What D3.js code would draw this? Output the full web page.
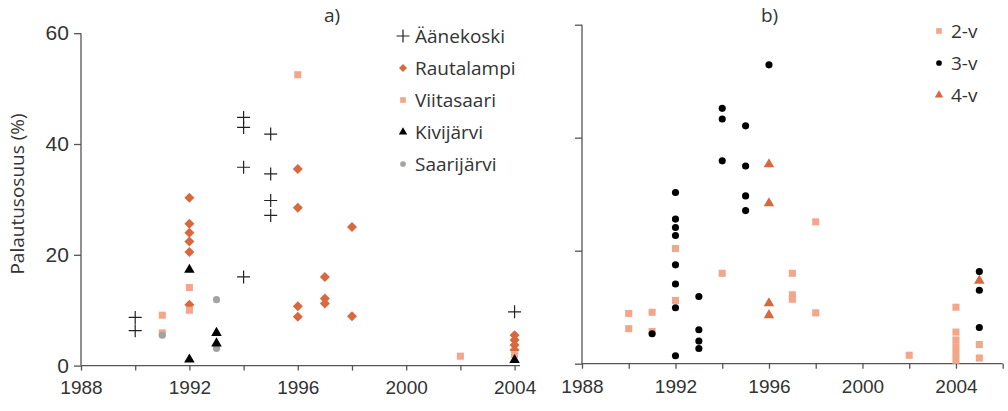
<!DOCTYPE html>
<html>
<head>
<meta charset="utf-8">
<script src="https://cdn.jsdelivr.net/npm/d3@7"></script>
<style>
  body { margin: 0; background: #fff; }
  svg { font-family: "Open Sans", "Noto Sans", sans-serif; }
</style>
</head>
<body>
<svg id="chart" width="1008" height="411"></svg>
<script>
// panel a) – [year, percent]
const aanekoski = [[1990, 8.7], [1990, 6.3], [1994, 44.8], [1994, 43.0], [1994, 35.8], [1994, 16.0],
  [1995, 41.8], [1995, 34.6], [1995, 29.8], [1995, 27.1], [2004, 9.7]];
const rautalampi = [[1992, 30.3], [1992, 25.6], [1992, 24.0], [1992, 22.4], [1992, 20.5], [1992, 11.0],
  [1996, 35.5], [1996, 28.5], [1996, 10.7], [1996, 8.8], [1997, 16.0], [1997, 12.1], [1997, 11.2],
  [1998, 25.0], [1998, 8.9], [2004, 5.5], [2004, 4.6], [2004, 3.7], [2004, 2.8]];
const viitasaari = [[1991, 9.1], [1991, 5.9], [1992, 14.1], [1992, 10.0], [1996, 52.5], [2002, 1.7], [2004, 2.0]];
const kivijarvi = [[1992, 17.3], [1992, 1.1], [1993, 5.9], [1993, 4.0], [2004, 1.0]];
const saarijarvi = [[1991, 5.5], [1993, 11.9], [1993, 3.1]];

// panel b)
const v2 = [[1990, 8.9], [1990, 6.2], [1991, 9.1], [1991, 5.7], [1992, 20.4], [1992, 11.2], [1994, 16.0],
  [1997, 16.0], [1997, 12.2], [1997, 11.4], [1998, 25.1], [1998, 9.0], [2002, 1.5],
  [2004, 10.0], [2004, 5.6], [2004, 4.2], [2004, 3.0], [2004, 1.8], [2004, 0.6], [2005, 3.4], [2005, 1.0]];
const v3 = [[1991, 5.3], [1992, 30.3], [1992, 25.6], [1992, 24.1], [1992, 22.7], [1992, 17.5], [1992, 14.1],
  [1992, 9.9], [1992, 1.4], [1993, 11.9], [1993, 6.0], [1993, 4.0], [1993, 2.7], [1994, 45.2], [1994, 43.3],
  [1994, 35.9], [1995, 42.1], [1995, 35.0], [1995, 29.7], [1995, 27.1], [1996, 52.9],
  [2005, 16.3], [2005, 13.0], [2005, 6.4]];
const v4 = [[1996, 35.3], [1996, 28.4], [1996, 10.7], [1996, 8.6], [2005, 14.7]];

const yTicks = [0, 20, 40, 60];
const xTicks = [1988, 1990, 1992, 1994, 1996, 1998, 2000, 2002, 2004, 2006];
const xLabels = [1988, 1992, 1996, 2000, 2004];

const svg = d3.select('#chart');
const axisColor = '#555';
const orange = '#d9683e';
const salmon = '#f2a68a';

// marker generators, k = scale (legend uses smaller ones)
const shapes = {
  plus: s => `M${-s / 2},0H${s / 2}M0,${-s / 2}V${s / 2}`,
  diamond: k => `M0,${-5 * k}L${5 * k},0L0,${5 * k}L${-5 * k},0Z`,
  square: k => d3.symbol(d3.symbolSquare, 50 * k * k)(),
  triangle: k => d3.symbol(d3.symbolTriangle, 48 * k * k)(),
  circle: k => d3.symbol(d3.symbolCircle, 40 * k * k)()
};

function drawPoints(g, data, x, y, type, color) {
  const sel = g.append('g').selectAll('path').data(data).join('path')
    .attr('transform', d => `translate(${x(d[0])},${y(d[1])})`);
  if (type === 'plus') {
    sel.attr('d', shapes.plus(13)).attr('fill', 'none').attr('stroke', '#222').attr('stroke-width', 1.2);
  } else {
    sel.attr('d', shapes[type](1)).attr('fill', color);
  }
}

function drawAxes(x, y, showYLabels) {
  const xAxis = d3.axisBottom(x).tickValues(xTicks.filter(t => t <= x.domain()[1]))
    .tickSize(5).tickSizeOuter(0)
    .tickFormat(t => xLabels.includes(t) ? t : '');
  const gx = svg.append('g').attr('transform', `translate(0,${y(0)})`).call(xAxis);
  gx.selectAll('text').attr('font-size', 19).attr('fill', '#333').attr('dy', '1.1em');

  const yAxis = d3.axisLeft(y).tickValues(yTicks).tickSize(7).tickSizeOuter(0)
    .tickFormat(t => showYLabels ? t : '');
  const gy = svg.append('g').attr('transform', `translate(${x.range()[0]},0)`).call(yAxis);
  gy.selectAll('text').attr('font-size', 21).attr('fill', '#333').attr('dx', '-0.1em');

  svg.selectAll('.domain, .tick line').attr('stroke', axisColor).attr('stroke-width', 1.3);
  gx.select('.domain').attr('d', `M${x.range()[0]},0H${x.range()[1]}`);
  gy.select('.domain').attr('d', `M0,${y(0)}V${y(60)}`);
}

function legend(items, lx, ly, step) {
  const g = svg.append('g');
  items.forEach((it, i) => {
    const row = g.append('g').attr('transform', `translate(${lx},${ly + i * step})`);
    if (it.type === 'plus') {
      row.append('path').attr('d', shapes.plus(13)).attr('stroke', '#222').attr('stroke-width', 1.2).attr('fill', 'none');
    } else {
      row.append('path').attr('d', shapes[it.type](0.8)).attr('fill', it.color);
    }
    row.append('text').attr('x', 12).attr('y', 7).attr('font-size', 19).attr('fill', '#333').text(it.name);
  });
}

// ---- panel a)
const xa = d3.scaleLinear().domain([1988, 2004.2]).range([81, 520]);
const ya = d3.scaleLinear().domain([0, 60]).range([365.6, 33.2]);
drawAxes(xa, ya, true);
const ga = svg.append('g');
drawPoints(ga, aanekoski, xa, ya, 'plus');
drawPoints(ga, rautalampi, xa, ya, 'diamond', orange);
drawPoints(ga, viitasaari, xa, ya, 'square', salmon);
drawPoints(ga, saarijarvi, xa, ya, 'circle', '#a3a3a3');
drawPoints(ga, kivijarvi, xa, ya, 'triangle', '#000');

svg.append('text').attr('x', 324).attr('y', 22).attr('font-size', 19).attr('fill', '#333').text('a)');
svg.append('text').attr('transform', 'translate(24,194) rotate(-90)').attr('text-anchor', 'middle')
  .attr('font-size', 19).attr('fill', '#333').text('Palautusosuus (%)');

legend([
  {name: 'Äänekoski', type: 'plus'},
  {name: 'Rautalampi', type: 'diamond', color: orange},
  {name: 'Viitasaari', type: 'square', color: salmon},
  {name: 'Kivijärvi', type: 'triangle', color: '#000'},
  {name: 'Saarijärvi', type: 'circle', color: '#a3a3a3'}
], 403, 36, 32);

// ---- panel b)
const xb = d3.scaleLinear().domain([1988, 2006]).range([582, 1002.7]);
const yb = d3.scaleLinear().domain([0, 60]).range([363.7, 24.7]);
drawAxes(xb, yb, false);
const gb = svg.append('g');
drawPoints(gb, v2, xb, yb, 'square', salmon);
drawPoints(gb, v3, xb, yb, 'circle', '#000');
drawPoints(gb, v4, xb, yb, 'triangle', orange);

svg.append('text').attr('x', 761).attr('y', 22).attr('font-size', 19).attr('fill', '#333').text('b)');
legend([
  {name: '2-v', type: 'square', color: salmon},
  {name: '3-v', type: 'circle', color: '#000'},
  {name: '4-v', type: 'triangle', color: orange}
], 939, 31, 32);
</script>
</body>
</html>
